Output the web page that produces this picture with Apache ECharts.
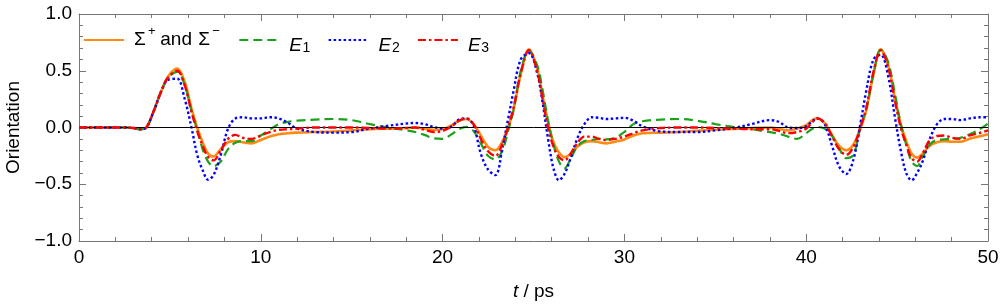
<!DOCTYPE html>
<html><head><meta charset="utf-8">
<script src="https://cdn.jsdelivr.net/npm/echarts@6/dist/echarts.min.js"></script>
<style>html,body{margin:0;padding:0;background:#fff}#c{width:1000px;height:305px}</style>
</head><body><div id="c"></div>
<script>
const times = [0,1,2,2.5,3,3.35,3.7,4.1,4.5,4.9,
 5.4,5.8,6.2,6.5,6.8,7.1,7.4,7.8,8.2,8.6,
 9.0,9.5,10,10.5,11,11.5,12,13,14,15,
 16,17,18,18.5,19,19.5,20,20.5,20.9,21.3,
 21.7,22.1,22.5,22.9,23.3,23.6,23.9,24.3,24.75,25.2,
 25.5,25.8,26.1,26.4,26.7,27.0,27.4,27.8,28.2,28.6,
 29.0,29.5,30,30.5,31,32,33,34,35,36,
 37,38,38.5,39,39.5,40,40.3,40.6,41.0,41.4,
 41.8,42.2,42.6,43.0,43.3,43.7,44.1,44.5,44.9,45.2,
 45.5,45.8,46.1,46.4,46.8,47.2,47.6,48.0,48.5,49,
 49.5,50];
const sigma = [0,0,0,0,-0.005,-0.015,0.0,0.14,0.31,0.45,
 0.52,0.41,0.16,0.0,-0.13,-0.23,-0.255,-0.19,-0.13,-0.12,
 -0.13,-0.14,-0.11,-0.08,-0.06,-0.05,-0.045,-0.04,-0.035,-0.025,
 -0.015,-0.01,-0.005,0,-0.01,-0.02,-0.015,0.02,0.06,0.075,
 0.03,-0.07,-0.17,-0.2,-0.12,0.0,0.16,0.47,0.69,0.52,
 0.28,0.05,-0.13,-0.22,-0.26,-0.24,-0.17,-0.13,-0.12,-0.13,
 -0.14,-0.125,-0.105,-0.07,-0.05,-0.045,-0.04,-0.03,-0.02,-0.012,
 -0.005,0,-0.01,-0.025,-0.01,0.02,0.06,0.08,0.04,-0.06,
 -0.16,-0.2,-0.15,0.0,0.15,0.47,0.69,0.55,0.24,0.03,
 -0.12,-0.23,-0.265,-0.23,-0.16,-0.13,-0.12,-0.125,-0.125,-0.1,
 -0.08,-0.06];
const e1 = [0,0,0,0,-0.005,-0.015,0.0,0.14,0.31,0.44,
 0.49,0.38,0.14,-0.02,-0.19,-0.3,-0.34,-0.3,-0.19,-0.135,
 -0.12,-0.12,-0.07,-0.02,0.03,0.05,0.06,0.07,0.075,0.065,
 0.03,0.0,-0.025,-0.04,-0.065,-0.095,-0.1,-0.06,-0.015,0.005,
 -0.03,-0.14,-0.25,-0.28,-0.2,-0.03,0.15,0.5,0.68,0.55,
 0.33,0.06,-0.15,-0.3,-0.36,-0.29,-0.17,-0.12,-0.11,-0.1,
 -0.105,-0.09,-0.04,0.03,0.055,0.07,0.075,0.06,0.03,0.005,
 -0.015,-0.04,-0.055,-0.08,-0.1,-0.05,-0.015,0.005,-0.01,-0.07,
 -0.18,-0.27,-0.24,0.02,0.16,0.47,0.685,0.58,0.28,0.03,
 -0.15,-0.3,-0.34,-0.26,-0.15,-0.11,-0.105,-0.1,-0.09,-0.06,
 -0.02,0.035];
const e2 = [0,0,0,0,-0.005,-0.015,0.0,0.14,0.31,0.42,
 0.43,0.26,-0.01,-0.24,-0.375,-0.46,-0.42,-0.24,-0.01,0.08,
 0.09,0.08,0.08,0.09,0.08,0.04,-0.01,-0.04,-0.045,-0.04,
 -0.01,0.015,0.035,0.04,0.03,0.005,-0.01,0.01,0.07,0.08,
 0.02,-0.23,-0.37,-0.42,-0.17,0.07,0.32,0.6,0.655,0.48,
 0.22,-0.1,-0.36,-0.465,-0.41,-0.29,-0.1,0.03,0.09,0.085,
 0.075,0.08,0.085,0.06,0.01,-0.035,-0.04,-0.04,-0.025,-0.005,
 0.03,0.065,0.05,0.0,-0.005,0.01,0.05,0.08,0.035,-0.15,
 -0.34,-0.41,-0.28,0.05,0.32,0.6,0.64,0.46,0.07,-0.2,
 -0.4,-0.465,-0.4,-0.3,-0.1,0.03,0.075,0.075,0.065,0.08,
 0.09,0.09];
const e3 = [0,0,0,0,-0.005,-0.015,0.0,0.14,0.31,0.44,
 0.5,0.38,0.13,-0.03,-0.16,-0.26,-0.29,-0.2,-0.1,-0.065,
 -0.09,-0.1,-0.07,-0.04,-0.02,-0.015,-0.01,0,0,0,
 -0.005,-0.01,-0.005,0,-0.02,-0.04,-0.03,0.01,0.06,0.08,
 0.03,-0.1,-0.21,-0.25,-0.14,0.0,0.17,0.48,0.68,0.5,
 0.25,0.0,-0.17,-0.26,-0.29,-0.24,-0.14,-0.08,-0.08,-0.1,
 -0.11,-0.1,-0.08,-0.05,-0.025,-0.005,0,0,-0.005,-0.01,
 -0.015,-0.015,-0.03,-0.05,-0.04,-0.01,0.04,0.08,0.045,-0.07,
 -0.19,-0.24,-0.17,0.01,0.17,0.49,0.68,0.54,0.22,0.0,
 -0.15,-0.27,-0.3,-0.23,-0.11,-0.075,-0.07,-0.09,-0.1,-0.07,
 -0.05,-0.025];
const seriesNames = ['sigma','e1','e2','e3'];
const xTickLabels = ['0','10','20','30','40','50'];
const yTickLabels = ['−1.0','−0.5','0.0','0.5','1.0'];

const FONT = '"Liberation Sans", Arial, Helvetica, sans-serif';
const frame = '#777';
const pairs = v => times.map((t,i)=>[t, v[i]]);

const chart = echarts.init(document.getElementById('c'), null, {renderer:'canvas'});
const xBase = {
  type:'value', min:0, max:50, interval:10,
  axisLine:{show:true, onZero:false, lineStyle:{color:frame, width:1}},
  axisTick:{show:true, inside:true, length:7, lineStyle:{color:frame}},
  minorTick:{show:true, splitNumber:5, length:4, lineStyle:{color:frame}},
  splitLine:{show:false}
};
const yBase = {
  type:'value', min:-1, max:1, interval:0.5,
  axisLine:{show:true, onZero:false, lineStyle:{color:frame, width:1}},
  axisTick:{show:true, inside:true, length:7, lineStyle:{color:frame}},
  minorTick:{show:true, splitNumber:5, length:4, lineStyle:{color:frame}},
  splitLine:{show:false}
};
const mk = (name, data, color, type, width, z) => ({
  name, type:'line', data: pairs(data), smooth:0.35, symbol:'none', showSymbol:false,
  lineStyle:{color, type, width}, itemStyle:{color}, z, animation:false
});
const s0 = mk('sigma', sigma, '#ff8a14', 'solid', 2.6, 2);
s0.markLine = {silent:true, symbol:'none', animation:false, label:{show:false},
  lineStyle:{color:'#000', type:'solid', width:1}, data:[{yAxis:0}]};
const FS = 19;
const option = {
  animation:false,
  backgroundColor:'#fff',
  textStyle:{fontFamily:FONT},
  grid:{left:79, right:12, top:14, bottom:64, containLabel:false, outerBoundsMode:'none'},
  legend:{
    left:83, top:25, padding:0, itemWidth:40, itemHeight:14, itemGap:17,
    data:seriesNames,
    itemStyle:{opacity:0, color:'rgba(0,0,0,0)', borderWidth:0},
    formatter: n => ({
      sigma:'{g|}{S|Σ}{sup|+}{a|and}{S2|Σ}{sup2|−}',
      e1:'{g|}{i|E}{sub|1}', e2:'{g|}{i|E}{sub|2}', e3:'{g|}{i|E}{sub|3}'
    })[n],
    textStyle:{fontFamily:FONT, fontSize:FS, color:'#000',
      rich:{
        g:{width:5, lineHeight:30, fontSize:FS},
        S:{fontFamily:FONT, fontSize:FS, color:'#000', lineHeight:30, width:14},
        S2:{fontFamily:FONT, fontSize:FS, color:'#000', lineHeight:30, width:14},
        a:{fontFamily:FONT, fontSize:FS, color:'#000', lineHeight:30, width:38},
        sup:{fontFamily:FONT, fontSize:13, color:'#000', lineHeight:13, verticalAlign:'top', width:12.3},
        sup2:{fontFamily:FONT, fontSize:13, color:'#000', lineHeight:13, verticalAlign:'top', width:9},
        i:{fontFamily:FONT, fontSize:FS, fontStyle:'italic', color:'#000', lineHeight:20, verticalAlign:'bottom', width:13.3},
        sub:{fontFamily:FONT, fontSize:14, color:'#000', lineHeight:12, verticalAlign:'bottom', width:8}
      }}
  },
  xAxis:[
    Object.assign({}, xBase, {position:'bottom',
      axisLabel:{show:true, margin:7, fontFamily:FONT, fontSize:FS, color:'#000',
        formatter: v => xTickLabels[Math.round(v/10)]},
      name:'{it|t} / ps', nameLocation:'middle', nameGap:41,
      nameTextStyle:{fontFamily:FONT, fontSize:FS, color:'#000',
        rich:{it:{fontFamily:FONT, fontSize:FS, fontStyle:'italic', color:'#000'}}}}),
    Object.assign({}, xBase, {position:'top', axisLabel:{show:false}})
  ],
  yAxis:[
    Object.assign({}, yBase, {position:'left',
      axisLabel:{show:true, margin:7, fontFamily:FONT, fontSize:FS, color:'#000',
        formatter: v => yTickLabels[Math.round((v+1)/0.5)]},
      name:'Orientation', nameLocation:'middle', nameGap:55,
      nameTextStyle:{fontFamily:FONT, fontSize:FS, color:'#000'}}),
    Object.assign({}, yBase, {position:'right', axisLabel:{show:false}})
  ],
  series:[
    s0,
    mk('e1', e1, '#1aa31a', [9,5], 2.2, 3),
    mk('e2', e2, '#0000ff', [2.5,2.5], 2.4, 4),
    mk('e3', e3, '#ff0000', [8,3,2.5,3], 2.4, 5)
  ]
};
chart.setOption(option);
</script>
</body></html>
